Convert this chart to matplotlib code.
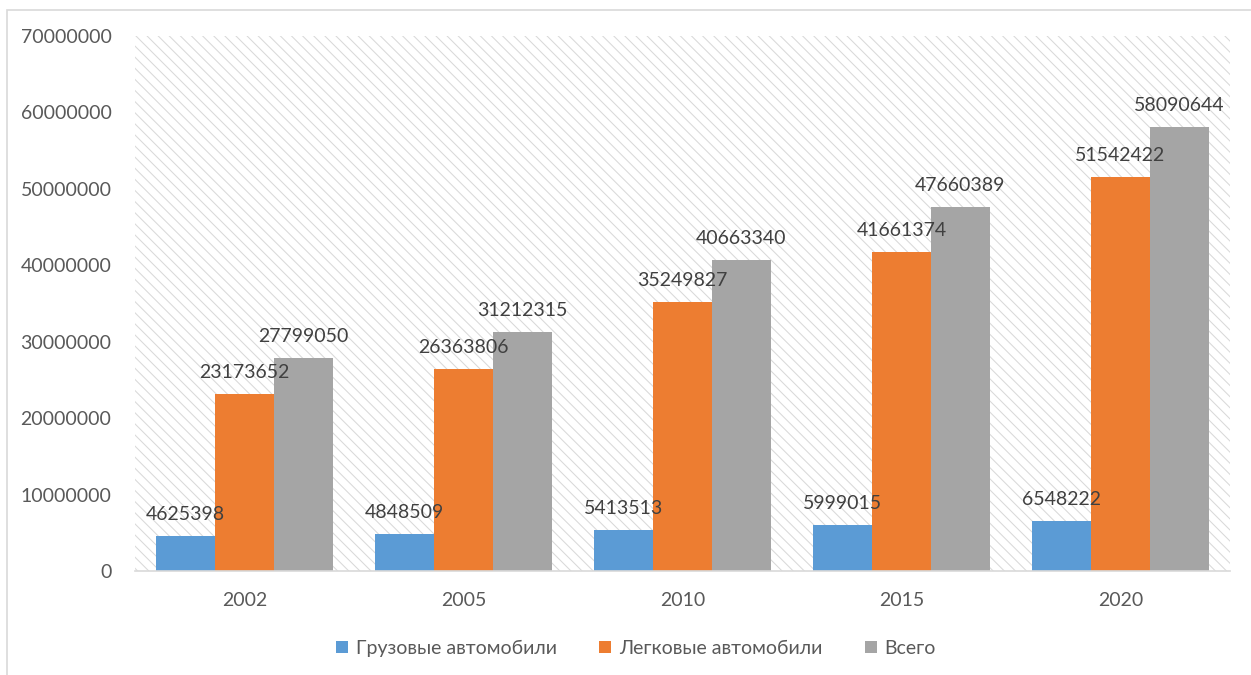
import matplotlib.pyplot as plt
import numpy as np
from matplotlib.patches import Rectangle

years = ['2002', '2005', '2010', '2015', '2020']
trucks = [4625398, 4848509, 5413513, 5999015, 6548222]
cars = [23173652, 26363806, 35249827, 41661374, 51542422]
total = [27799050, 31212315, 40663340, 47660389, 58090644]

series = [
    ('Грузовые автомобили', trucks, '#5b9bd5'),
    ('Легковые автомобили', cars, '#ed7d31'),
    ('Всего', total, '#a5a5a5'),
]

plt.rcParams['font.family'] = ['Lato', 'DejaVu Sans']
plt.rcParams['hatch.color'] = '#d9d9d9'
plt.rcParams['hatch.linewidth'] = 0.75

fig = plt.figure(figsize=(12.51, 6.75), dpi=100)
ax = fig.add_axes([0.108, 0.154, 0.875, 0.793])

# outer chart border
fig.patches.append(Rectangle((7 / 1251, -0.01), 1.1, (675 - 10) / 675 + 0.01,
                             transform=fig.transFigure, fill=False,
                             edgecolor='#d9d9d9', linewidth=1.2))

ax.patch.set_facecolor('white')
ax.patch.set_hatch('\\\\\\')
ax.patch.set_edgecolor('#d9d9d9')
ax.patch.set_linewidth(0)

x = np.arange(len(years))
w = 0.27
for i, (name, vals, col) in enumerate(series):
    pos = x + (i - 1) * w
    bars = ax.bar(pos, vals, width=w, color=col, label=name, zorder=2)
    for b, v in zip(bars, vals):
        ax.text(b.get_x() + b.get_width() / 2, v + 1700000, str(v),
                ha='center', va='bottom', fontsize=14, color='#404040', zorder=3)

ax.set_xlim(-0.5, len(years) - 0.5)
ax.set_ylim(0, 70000000)
ax.set_yticks(np.arange(0, 70000001, 10000000))
ax.set_yticklabels([str(v) for v in range(0, 70000001, 10000000)])
ax.set_xticks(x)
ax.set_xticklabels(years)
ax.tick_params(axis='both', length=0, labelsize=14, labelcolor='#595959')
ax.tick_params(axis='y', pad=17)
ax.tick_params(axis='x', pad=15)

for s in ['top', 'right', 'left']:
    ax.spines[s].set_visible(False)
ax.spines['bottom'].set_color('#d9d9d9')
ax.spines['bottom'].set_linewidth(1.2)

handles, labels = ax.get_legend_handles_labels()
fig.legend(handles, labels, loc='center', bbox_to_anchor=(636 / 1251, 1 - 648 / 675),
           ncol=3, frameon=False, fontsize=14, handlelength=0.6, handleheight=0.6,
           handletextpad=0.4, columnspacing=2.2, labelcolor='#595959')

fig.savefig('out.png', dpi=100)
